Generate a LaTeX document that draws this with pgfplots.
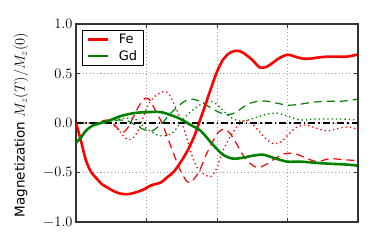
\documentclass[border=0pt]{standalone}
\usepackage{fontspec}
\setmainfont{DejaVu Sans}
\usepackage{pgfplots}
\pgfplotsset{compat=1.18}
\begin{document}
\begin{tikzpicture}
\path[use as bounding box] (-76pt,-25pt) rectangle (298pt,222pt);
\begin{axis}[
  at={(0,0)}, anchor=south west,
  scale only axis, width=282pt, height=198pt,
  xmin=0, xmax=4, ymin=-1, ymax=1,
  xtick={1,2,3}, xticklabels={},
  ytick={-1,-0.5,0,0.5,1},
  yticklabel style={/pgf/number format/fixed,/pgf/number format/fixed zerofill,/pgf/number format/precision=1},
  tick label style={font=\fontsize{14.4}{17}\selectfont},
  tick align=inside, tick pos=both,
  major tick length=4pt,
  every tick/.style={black!80, line width=0.8pt},
  axis line style={black!80, line width=1.1pt},
  grid=major,
  major grid style={gray!75, line width=0.7pt, dash pattern=on 1pt off 2.5pt},
  ylabel={Magnetization {\fontsize{14.4}{17}\selectfont$M_z(T)/M_z(0)$}},
  every axis y label/.style={at={(axis description cs:-0.195,0.49)}, rotate=90, anchor=center, font=\fontsize{13.5}{15}\selectfont},
  legend style={at={(0.021,0.97)}, anchor=north west, draw=black, line width=0.7pt,
    font=\fontsize{13}{15}\selectfont, inner xsep=4pt, inner ysep=2pt, row sep=1pt,
    nodes={inner sep=2pt}},
  legend cell align=left,
  legend image code/.code={\draw[#1] (0pt,0pt) -- (20pt,0pt);},
  legend style={/tikz/every odd column/.append style={column sep=8pt}},
]
% Fe dashed
\addplot[red, line width=1.2pt, dash pattern=on 8pt off 5pt, smooth, tension=0.5, forget plot] coordinates {
(0,0) (0.27,0) (0.43,0.03) (0.52,0.0) (0.61,-0.07) (0.68,-0.09) (0.75,-0.03) (0.82,0.07) (0.89,0.17) (0.98,0.25) (1.05,0.23) (1.13,0.12) (1.22,0.0) (1.30,-0.15) (1.39,-0.32) (1.475,-0.47) (1.56,-0.58) (1.62,-0.60) (1.69,-0.55) (1.76,-0.47) (1.84,-0.33) (1.93,-0.2) (2.01,-0.1) (2.10,-0.06) (2.18,-0.1) (2.27,-0.2) (2.355,-0.31) (2.47,-0.41) (2.58,-0.45) (2.695,-0.42) (2.82,-0.36) (2.96,-0.31) (3.106,-0.31) (3.25,-0.35) (3.42,-0.39) (3.60,-0.36) (3.79,-0.37) (3.99,-0.38)
};
% Fe dotted
\addplot[red, line width=1.3pt, dash pattern=on 1.3pt off 3pt, smooth, tension=0.5, forget plot] coordinates {
(0,0) (0.4,0) (0.48,0.0) (0.58,-0.05) (0.67,-0.13) (0.74,-0.17) (0.81,-0.15) (0.88,-0.08) (0.95,0.05) (1.02,0.18) (1.09,0.25) (1.16,0.29) (1.25,0.32) (1.32,0.29) (1.40,0.18) (1.475,0.05) (1.55,-0.1) (1.63,-0.3) (1.72,-0.45) (1.82,-0.52) (1.915,-0.54) (2.0,-0.45) (2.07,-0.30) (2.17,-0.16) (2.27,-0.05) (2.37,0.02) (2.47,0.01) (2.58,-0.07) (2.695,-0.16) (2.81,-0.21) (2.91,-0.19) (3.02,-0.11) (3.135,-0.04) (3.26,-0.02) (3.40,-0.05) (3.55,-0.08) (3.69,-0.06) (3.84,-0.04) (3.99,-0.06)
};
% Gd dashed
\addplot[green!50!black, line width=1.2pt, dash pattern=on 8pt off 5pt, smooth, tension=0.5, forget plot] coordinates {
(0,0) (0.3,0.0) (0.41,0.01) (0.60,0.03) (0.74,0.02) (0.865,-0.03) (0.98,-0.07) (1.08,-0.08) (1.16,-0.04) (1.25,0.02) (1.33,0.09) (1.42,0.15) (1.52,0.21) (1.62,0.24) (1.72,0.23) (1.83,0.19) (1.94,0.14) (2.06,0.10) (2.17,0.085) (2.27,0.11) (2.37,0.16) (2.47,0.20) (2.58,0.22) (2.71,0.22) (2.85,0.20) (3.01,0.18) (3.18,0.19) (3.36,0.21) (3.56,0.22) (3.77,0.22) (3.99,0.24)
};
% Gd dotted
\addplot[green!50!black, line width=1.3pt, dash pattern=on 1.3pt off 3pt, smooth, tension=0.5, forget plot] coordinates {
(0,0) (0.35,0.0) (0.48,0.02) (0.62,0.04) (0.77,0.05) (0.865,0.03) (0.95,-0.03) (1.05,-0.08) (1.15,-0.12) (1.25,-0.13) (1.35,-0.11) (1.42,-0.06) (1.50,0.02) (1.59,0.09) (1.69,0.15) (1.80,0.2) (1.915,0.22) (2.01,0.18) (2.11,0.11) (2.21,0.05) (2.33,0.02) (2.44,0.03) (2.57,0.06) (2.71,0.09) (2.85,0.10) (2.96,0.08) (3.08,0.05) (3.22,0.03) (3.40,0.04) (3.60,0.04) (3.79,0.04) (3.99,0.03)
};
% zero line
\addplot[black, line width=1.2pt, dash pattern=on 7pt off 3pt on 1.5pt off 3pt, forget plot] coordinates {(0,0) (4,0)};
% Fe solid
\addplot[red, line width=2.6pt, smooth, tension=0.5] coordinates {
(0,0) (0.067,-0.17) (0.138,-0.37) (0.209,-0.49) (0.279,-0.55) (0.369,-0.62) (0.44,-0.65) (0.539,-0.69) (0.61,-0.71) (0.723,-0.72) (0.851,-0.70) (0.965,-0.67) (1.064,-0.63) (1.206,-0.60) (1.29,-0.55) (1.39,-0.49) (1.489,-0.39) (1.574,-0.29) (1.674,-0.14) (1.745,0.0) (1.816,0.145) (1.9,0.32) (1.99,0.50) (2.085,0.64) (2.184,0.71) (2.284,0.73) (2.369,0.71) (2.496,0.64) (2.61,0.56) (2.709,0.57) (2.794,0.61) (2.894,0.66) (3.007,0.69) (3.106,0.67) (3.22,0.65) (3.319,0.65) (3.418,0.66) (3.56,0.67) (3.70,0.67) (3.84,0.67) (3.986,0.69)
};
\addlegendentry{Fe}
% Gd solid
\addplot[green!50!black, line width=2.6pt, smooth, tension=0.5] coordinates {
(0,-0.20) (0.067,-0.15) (0.138,-0.08) (0.227,-0.03) (0.35,0.0) (0.49,0.03) (0.634,0.07) (0.823,0.10) (1.007,0.11) (1.20,0.11) (1.343,0.08) (1.485,0.04) (1.627,-0.02) (1.77,-0.08) (1.943,-0.22) (2.085,-0.32) (2.227,-0.36) (2.369,-0.35) (2.511,-0.33) (2.652,-0.32) (2.794,-0.35) (2.993,-0.39) (3.177,-0.39) (3.362,-0.40) (3.56,-0.41) (3.844,-0.42) (3.986,-0.43)
};
\addlegendentry{Gd}
\end{axis}
\end{tikzpicture}
\end{document}
